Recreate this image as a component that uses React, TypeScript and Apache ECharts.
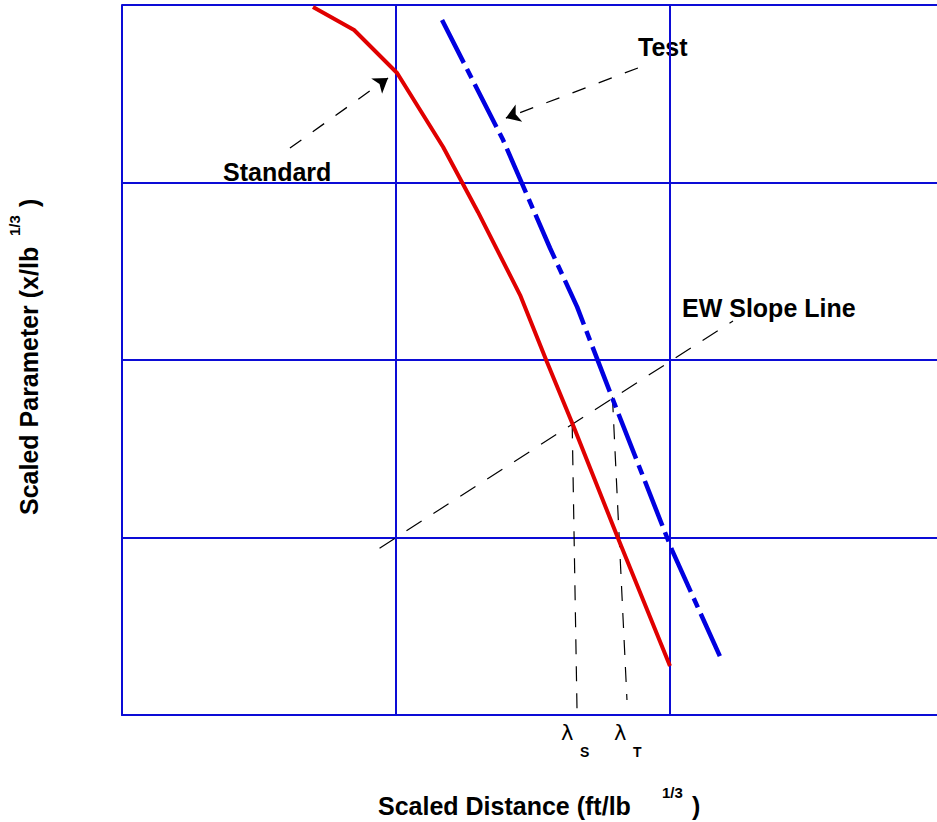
import React, { useEffect, useRef } from "react";
import * as echarts from "echarts";

// Scaled distance / scaled parameter (arbitrary log-decade units, grid at integers)
const xGridTicks = [0, 1, 2, 3];
const yGridTicks = [0, 1, 2, 3, 4];

const standardX = [0.697, 0.847, 1.004, 1.172, 1.299, 1.453, 1.551, 1.646, 1.81, 2.0];
const standardY = [3.989, 3.859, 3.617, 3.2, 2.834, 2.366, 1.989, 1.634, 0.997, 0.276];

const testX = [1.168, 1.391, 1.562, 1.661, 1.792, 2.007, 2.182];
const testY = [3.915, 3.239, 2.631, 2.299, 1.775, 0.93, 0.332];

const slopeX = [0.94, 2.23];
const slopeY = [0.94, 2.22];

const lambdaSX = [1.643, 1.661];
const lambdaSY = [1.643, 0.0];
const lambdaTX = [1.79, 1.843];
const lambdaTY = [1.79, 0.085];

const standardArrowX = [0.613, 0.971];
const standardArrowY = [3.194, 3.589];
const testArrowX = [1.883, 1.401];
const testArrowY = [3.645, 3.363];

const zip = (xs: number[], ys: number[]) => xs.map((x, i) => [x, ys[i]]);

const GRID_BLUE = "#0c0cd6";
const FONT = "'Liberation Sans', Arial, sans-serif";

export default function App() {
  const ref = useRef<HTMLDivElement>(null);

  useEffect(() => {
    if (!ref.current) return;
    const chart = echarts.init(ref.current, undefined, { renderer: "svg" });
    const bold = (size: number) => ({
      fontFamily: FONT,
      fontWeight: "bold" as const,
      fontSize: size,
      fill: "#000",
    });
    chart.setOption({
      animation: false,
      backgroundColor: "#fff",
      grid: {
        left: 122,
        top: 5,
        width: 825,
        height: 710,
        containLabel: false,
        outerBoundsMode: "none",
      },
      xAxis: {
        type: "value",
        min: xGridTicks[0],
        max: 3.011,
        interval: 1,
        axisLine: { show: true, lineStyle: { color: GRID_BLUE, width: 2 } },
        axisTick: { show: false },
        axisLabel: { show: false },
        splitLine: { show: true, lineStyle: { color: GRID_BLUE, width: 2 } },
      },
      yAxis: {
        type: "value",
        min: yGridTicks[0],
        max: yGridTicks[yGridTicks.length - 1],
        interval: 1,
        axisLine: { show: true, lineStyle: { color: GRID_BLUE, width: 2 } },
        axisTick: { show: false },
        axisLabel: { show: false },
        splitLine: { show: true, lineStyle: { color: GRID_BLUE, width: 2 } },
      },
      series: [
        {
          name: "EW Slope Line",
          type: "line",
          data: zip(slopeX, slopeY),
          symbol: "none",
          lineStyle: { color: "#000", width: 1.2, type: [18, 14] },
          z: 3,
        },
        {
          name: "lambdaS",
          type: "line",
          data: zip(lambdaSX, lambdaSY),
          symbol: "none",
          lineStyle: { color: "#000", width: 1.2, type: [15, 12] },
          z: 3,
        },
        {
          name: "lambdaT",
          type: "line",
          data: zip(lambdaTX, lambdaTY),
          symbol: "none",
          lineStyle: { color: "#000", width: 1.2, type: [15, 12] },
          z: 3,
        },
        {
          name: "Standard",
          type: "line",
          data: zip(standardX, standardY),
          symbol: "none",
          lineStyle: { color: "#e00000", width: 4 },
          z: 5,
        },
        {
          name: "Test",
          type: "line",
          data: zip(testX, testY),
          symbol: "none",
          lineStyle: { color: "#0000e0", width: 4.5, type: [48, 7, 10, 7] },
          z: 5,
        },
        {
          name: "arrows",
          type: "lines",
          coordinateSystem: "cartesian2d",
          symbol: ["none", "arrow"],
          symbolSize: 14,
          lineStyle: { color: "#000", width: 1.3, type: [14, 14], opacity: 1 },
          data: [
            { coords: zip(standardArrowX, standardArrowY) },
            { coords: zip(testArrowX, testArrowY) },
          ],
          z: 6,
        },
      ],
      graphic: [
        { type: "text", x: 223, y: 172, style: { ...bold(25), text: "Standard", verticalAlign: "middle" } },
        { type: "text", x: 638, y: 47, style: { ...bold(25), text: "Test", verticalAlign: "middle" } },
        { type: "text", x: 682, y: 308, style: { ...bold(25), text: "EW Slope Line", verticalAlign: "middle" } },
        // lambda labels
        { type: "text", x: 561, y: 733, style: { fontFamily: "'DejaVu Sans', sans-serif", fontSize: 21, fill: "#000", text: "λ", verticalAlign: "middle" } },
        { type: "text", x: 580, y: 752, style: { ...bold(14), text: "S", verticalAlign: "middle" } },
        { type: "text", x: 614, y: 733, style: { fontFamily: "'DejaVu Sans', sans-serif", fontSize: 21, fill: "#000", text: "λ", verticalAlign: "middle" } },
        { type: "text", x: 633, y: 752, style: { ...bold(14), text: "T", verticalAlign: "middle" } },
        // x axis title
        { type: "text", x: 378, y: 806, style: { ...bold(25), text: "Scaled Distance (ft/lb", verticalAlign: "middle" } },
        { type: "text", x: 662, y: 792, style: { ...bold(15), text: "1/3", verticalAlign: "middle" } },
        { type: "text", x: 692, y: 806, style: { ...bold(25), text: ")", verticalAlign: "middle" } },
        // y axis title
        { type: "text", x: 29, y: 515, rotation: Math.PI / 2, style: { ...bold(25), text: "Scaled Parameter (x/lb", verticalAlign: "middle" } },
        { type: "text", x: 14, y: 236, rotation: Math.PI / 2, style: { ...bold(15), text: "1/3", verticalAlign: "middle" } },
        { type: "text", x: 29, y: 207, rotation: Math.PI / 2, style: { ...bold(25), text: ")", verticalAlign: "middle" } },
      ],
    });
    return () => chart.dispose();
  }, []);

  return (
    <div
      ref={ref}
      style={{ position: "absolute", left: 0, top: 0, width: 937, height: 822 }}
    />
  );
}
